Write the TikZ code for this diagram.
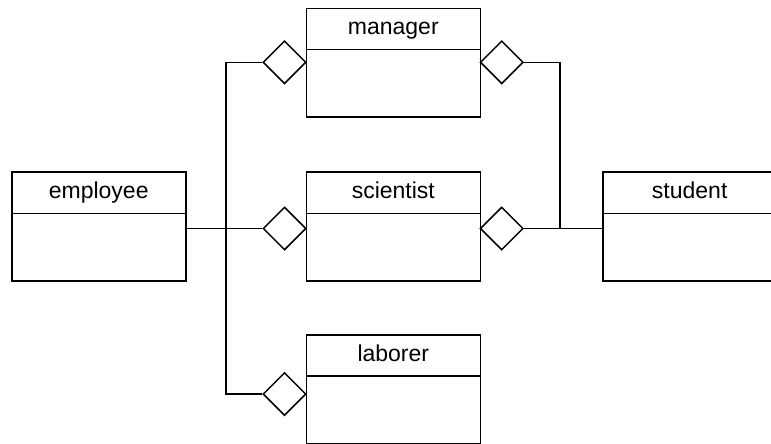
\documentclass[tikz,border=0pt]{standalone}
\usepackage{fontspec}
\setmainfont{Liberation Sans}
\usetikzlibrary{shapes.geometric, positioning, calc}

\begin{document}
\begin{tikzpicture}[x=1pt, y=1pt,
    classbox/.style={draw, rectangle, line width=1.6pt, minimum width=174pt, minimum height=108.5pt, inner sep=0pt},
    classname/.style={font=\fontsize{23}{27}\selectfont, inner sep=0pt, anchor=base},
    header/.style={line width=1.5pt},
    aggr/.style={draw, diamond, fill=white, line width=1.5pt, minimum width=43pt, minimum height=43pt, inner sep=0pt},
    link/.style={-, line width=1.4pt}
]
\clip (0,0) rectangle (771,-444);
% classes
\node[classbox] (emp) at (98.7,-226.5) {};
\node[classbox] (mgr) at (393.3,-62.7) {};
\node[classbox] (sci) at (393.3,-226.5) {};
\node[classbox] (stu) at (689.7,-226.5) {};
\node[classbox] (lab) at (393.3,-389.2) {};
\node[classname] (emp-t) at ([yshift=-27pt]emp.north) {employee};
\node[classname] (mgr-t) at ([yshift=-27pt]mgr.north) {manager};
\node[classname] (sci-t) at ([yshift=-27pt]sci.north) {scientist};
\node[classname] (stu-t) at ([yshift=-27pt]stu.north) {student};
\node[classname] (lab-t) at ([yshift=-27pt]lab.north) {laborer};
\draw[header] ([yshift=-42pt]emp.north west) -- ([yshift=-42pt]emp.north east);
\draw[header] ([yshift=-42pt]mgr.north west) -- ([yshift=-42pt]mgr.north east);
\draw[header] ([yshift=-42pt]sci.north west) -- ([yshift=-42pt]sci.north east);
\draw[header] ([yshift=-42pt]stu.north west) -- ([yshift=-42pt]stu.north east);
\draw[header] ([yshift=-42pt]lab.north west) -- ([yshift=-42pt]lab.north east);
% aggregation diamonds
\node[aggr] (dm1) at (284.5,-62.3) {};
\node[aggr] (dm2) at (501.7,-62.3) {};
\node[aggr] (ds1) at (284.5,-228.5) {};
\node[aggr] (ds2) at (501.7,-228.5) {};
\node[aggr] (dl) at (284.5,-394) {};
% connectors
\coordinate (jl) at (226,-228.5);
\coordinate (jr) at (560,-228.5);
\draw[link] (emp.east |- ds1) -- (ds1.west);
\draw[link] (dm1.west) -| (jl) |- (dl.west);
\draw[link] (dm2.east) -| (jr);
\draw[link] (ds2.east) -- (stu.west |- ds2);
\end{tikzpicture}
\end{document}
